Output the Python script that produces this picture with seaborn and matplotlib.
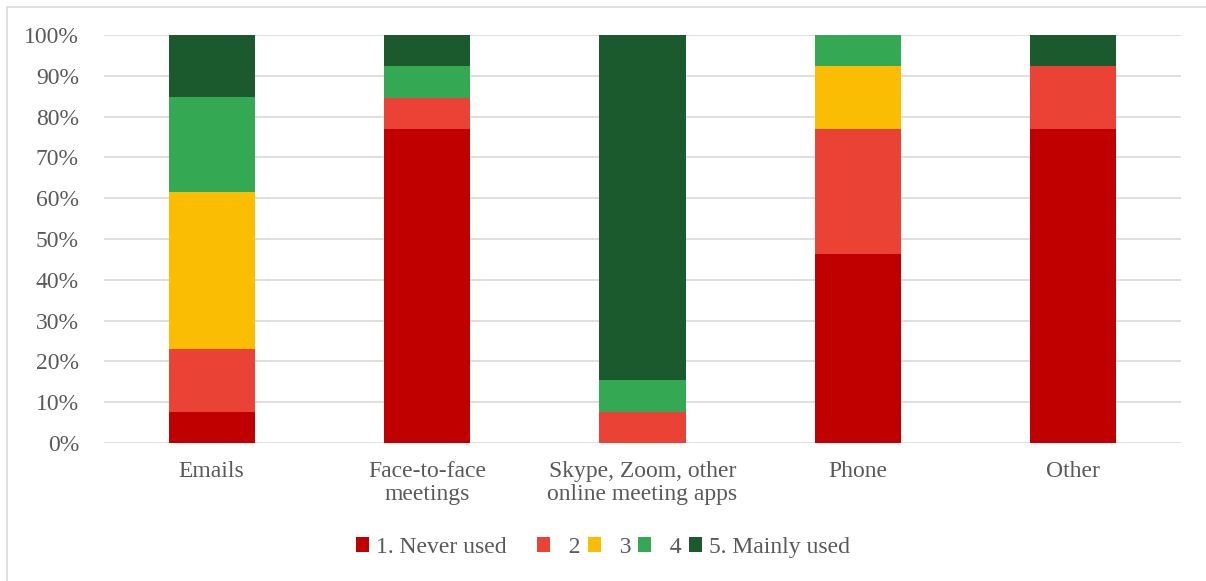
import numpy as np
import pandas as pd
import matplotlib
matplotlib.use("Agg")
import matplotlib.pyplot as plt
from matplotlib.patches import Patch, Rectangle
from matplotlib.ticker import PercentFormatter
import seaborn as sns

# Data (share of respondents, %)
categories = ["Emails", "Face-to-face\nmeetings", "Skype, Zoom, other\nonline meeting apps", "Phone", "Other"]
levels = ["1. Never used", "2", "3", "4", "5. Mainly used"]
never_used = [7.7, 76.9, 0.0, 46.2, 76.9]
level_2 = [15.4, 7.7, 7.7, 30.8, 15.4]
level_3 = [38.5, 0.0, 0.0, 15.4, 0.0]
level_4 = [23.1, 7.7, 7.7, 7.7, 0.0]
mainly_used = [15.3, 7.7, 84.6, 0.0, 7.7]
colors = ["#C00000", "#EA4335", "#FBBC04", "#34A853", "#1B5A2C"]

series = [never_used, level_2, level_3, level_4, mainly_used]
df = pd.DataFrame({lvl: vals for lvl, vals in zip(levels, series)})
df["category"] = categories
cum = df[levels].cumsum(axis=1)
cum["category"] = categories

sns.set_style("white")
plt.rcParams["font.family"] = ["Liberation Serif", "DejaVu Serif"]
text_color = "#595959"

fig = plt.figure(figsize=(12.06, 5.81), dpi=100)
ax = fig.add_axes([0.0862, 0.2375, 0.893, 0.7023])

# draw stacked bars from the top cumulative level down so lower levels overlay
for lvl, col in reversed(list(zip(levels, colors))):
    sns.barplot(data=cum, x="category", y=lvl, color=col, width=0.4,
                saturation=1, linewidth=0, ax=ax, zorder=3)

ax.set_ylim(0, 100)
ax.set_xlim(-0.5, len(categories) - 0.5)
ax.set_yticks(np.arange(0, 101, 10))
ax.yaxis.set_major_formatter(PercentFormatter(decimals=0))
ax.set_xlabel("")
ax.set_ylabel("")
ax.grid(axis="y", color="#D9D9D9", linewidth=1.2, zorder=0)
ax.set_axisbelow(True)
for s in ax.spines.values():
    s.set_visible(False)
ax.tick_params(axis="both", length=0, labelsize=17, labelcolor=text_color)
ax.tick_params(axis="y", pad=18)
ax.tick_params(axis="x", pad=13)
for t in ax.get_xticklabels():
    t.set_linespacing(1.1)

# legend labels padded to mimic the spreadsheet legend spacing
legend_labels = [levels[0] + "    ", "  " + levels[1], "  " + levels[2],
                 "  " + levels[3], levels[4]]
handles = [Patch(facecolor=c, edgecolor="none") for c in colors]
fig.legend(handles, legend_labels, loc="center", bbox_to_anchor=(0.5, 0.058), ncol=5,
           frameon=False, fontsize=17, labelcolor=text_color,
           handlelength=0.55, handleheight=0.55, handletextpad=0.3, columnspacing=0.3)

fig.patches.append(Rectangle((7 / 1206, -0.1), 1.2, 1 - 7 / 581 + 0.1,
                             transform=fig.transFigure, fill=False,
                             edgecolor="#D9D9D9", linewidth=1.2))

fig.savefig("out.png", dpi=100)
